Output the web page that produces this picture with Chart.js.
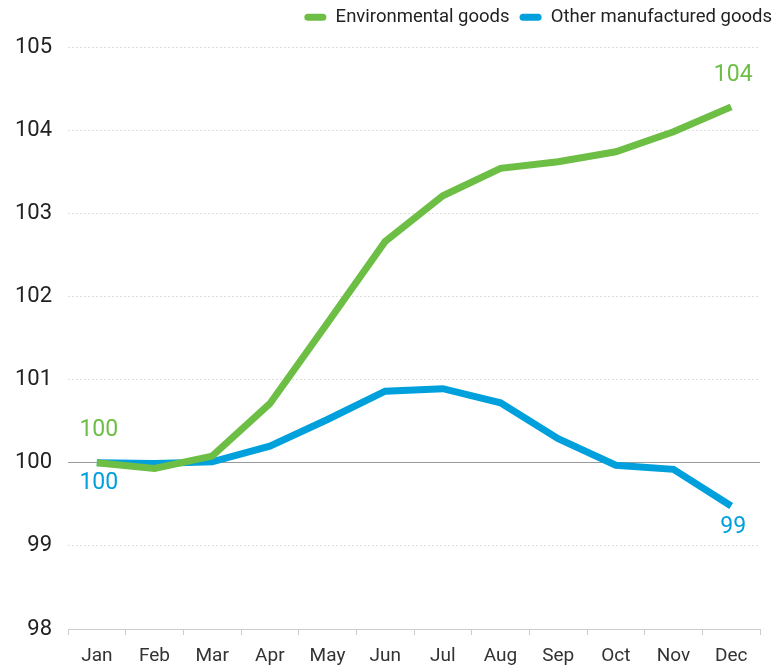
<!DOCTYPE html>
<html>
<head>
<meta charset="utf-8">
<script src="https://cdn.jsdelivr.net/npm/chart.js@4/dist/chart.umd.min.js"></script>
<style>
  html, body { margin: 0; padding: 0; background: #fff; }
  #wrap { width: 776px; height: 665px; }
</style>
</head>
<body>
<div id="wrap"><canvas id="MyChart"></canvas></div>
<script>
var months = ['Jan', 'Feb', 'Mar', 'Apr', 'May', 'Jun', 'Jul', 'Aug', 'Sep', 'Oct', 'Nov', 'Dec'];
var environmental = [100.0, 99.93, 100.08, 100.71, 101.68, 102.66, 103.21, 103.54, 103.62, 103.74, 103.98, 104.28];
var otherManufactured = [100.0, 99.99, 100.01, 100.2, 100.52, 100.86, 100.89, 100.72, 100.29, 99.97, 99.92, 99.48];
var yTicks = [98, 99, 100, 101, 102, 103, 104, 105];

var green = 'rgb(109,190,69)';
var blue = 'rgb(0,160,220)';

// first/last value labels + legend tweaks
var endLabels = {
    id: 'endLabels',
    beforeLayout: function (chart) {
        // give the legend some extra room below it
        var lg = chart.legend;
        if (lg && !lg._patched) {
            var fit = lg.fit;
            lg.fit = function () {
                fit.call(this);
                this.height = 43;
            };
            lg._patched = true;
        }
    },
    afterLayout: function (chart) {
        // push legend flush to the top right corner
        chart.legend.left += 6;
        chart.legend.right += 6;
        chart.legend.top -= 6;
        chart.legend.bottom -= 6;
    },
    afterDatasetsDraw: function (chart) {
        var ctx = chart.ctx;
        ctx.save();
        ctx.font = '23px Roboto';
        ctx.textAlign = 'center';
        ctx.textBaseline = 'middle';
        chart.data.datasets.forEach(function (ds, i) {
            var meta = chart.getDatasetMeta(i);
            var first = meta.data[0];
            var last = meta.data[meta.data.length - 1];
            var dy = i === 0 ? -32 : 21;
            ctx.fillStyle = ds.borderColor;
            ctx.fillText(Math.round(ds.data[0]), first.x + 2, first.y + dy);
            ctx.fillText(Math.floor(ds.data[ds.data.length - 1]), last.x + 2, last.y + dy);
        });
        ctx.restore();
    }
};

var ctx = document.getElementById('MyChart').getContext('2d');
var MyChart = new Chart(ctx, {
    type: 'line',
    data: {
        labels: months,
        datasets: [{
            label: 'Environmental goods',
            data: environmental,
            borderColor: green,
            backgroundColor: green,
            borderWidth: 7,
            pointRadius: 0,
            tension: 0
        }, {
            label: 'Other manufactured goods',
            data: otherManufactured,
            borderColor: blue,
            backgroundColor: blue,
            borderWidth: 7,
            pointRadius: 0,
            tension: 0
        }]
    },
    options: {
        responsive: true,
        maintainAspectRatio: false,
        animation: false,
        layout: { padding: { left: 0, right: 0, top: 4, bottom: 0 } },
        plugins: {
            legend: {
                position: 'top',
                align: 'end',
                labels: {
                    font: { family: 'Roboto', size: 18.5 },
                    color: '#222',
                    boxWidth: 22,
                    boxHeight: 7,
                    padding: 10,
                    useBorderRadius: true,
                    borderRadius: 3.5,
                    generateLabels: function (chart) {
                        return chart.data.datasets.map(function (ds, i) {
                            return {
                                text: ds.label,
                                fillStyle: ds.borderColor,
                                strokeStyle: ds.borderColor,
                                lineWidth: 0,
                                borderRadius: 3.5,
                                datasetIndex: i,
                                fontColor: '#222'
                            };
                        });
                    }
                }
            },
            tooltip: { enabled: false }
        },
        scales: {
            x: {
                offset: true,
                afterFit: function (scale) { scale.height = 36; },
                grid: {
                    offset: true,
                    drawOnChartArea: false,
                    drawTicks: true,
                    tickLength: 6,
                    color: '#cccccc'
                },
                border: { display: true, color: '#cccccc', width: 1 },
                ticks: {
                    font: { family: 'Roboto', size: 19 },
                    color: '#333',
                    padding: 10,
                    maxRotation: 0
                }
            },
            y: {
                min: 98,
                max: 105,
                afterBuildTicks: function (scale) {
                    scale.ticks = yTicks.map(function (v) { return { value: v }; });
                },
                afterFit: function (scale) { scale.width = 68; },
                grid: {
                    drawTicks: false,
                    color: function (c) {
                        if (c.tick && c.tick.value === 100) return '#9a9a9a';
                        if (c.tick && c.tick.value === 98) return 'rgba(0,0,0,0)';
                        return '#dedede';
                    },
                    lineWidth: 1
                },
                border: {
                    display: false,
                    dash: function (c) {
                        return (c.tick && c.tick.value === 100) ? [] : [2, 2];
                    }
                },
                ticks: {
                    font: { family: 'Roboto', size: 22 },
                    color: '#222',
                    padding: 16
                }
            },
            yr: {
                type: 'linear',
                position: 'right',
                display: true,
                grid: { display: false, drawTicks: false },
                border: { display: false },
                ticks: { display: false },
                afterFit: function (scale) { scale.width = 16; }
            }
        }
    },
    plugins: [endLabels]
});
</script>
</body>
</html>
